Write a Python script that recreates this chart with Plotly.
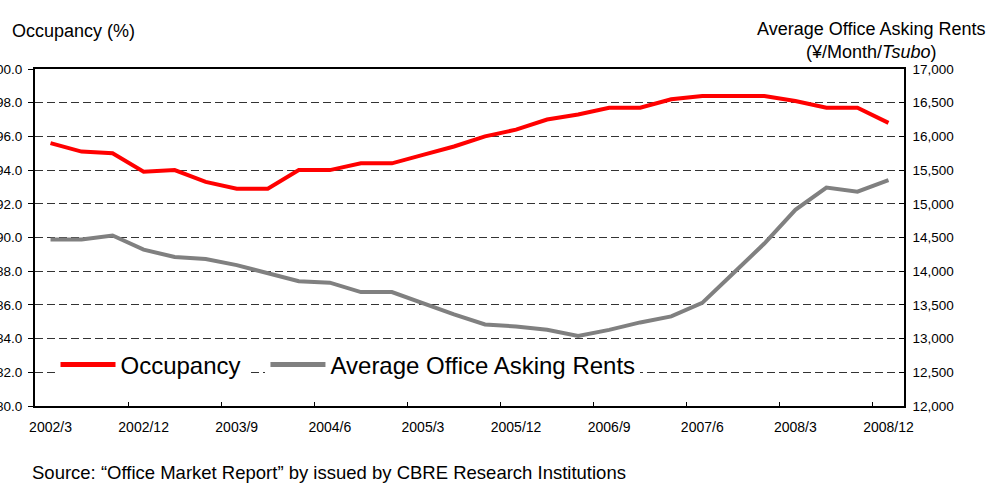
import plotly.graph_objects as go

# Quarterly periods, 2002/3 through 2008/12
quarters = [f"{y}/{m}" for y in range(2002, 2009) for m in (3, 6, 9, 12)]

# Occupancy rate (%)
occupancy = [95.6, 95.1, 95.0, 93.9, 94.0, 93.3, 92.9, 92.9, 94.0, 94.0,
             94.4, 94.4, 94.9, 95.4, 96.0, 96.4, 97.0, 97.3, 97.7, 97.7,
             98.2, 98.4, 98.4, 98.4, 98.1, 97.7, 97.7, 96.8]

# Average office asking rents (yen / month / tsubo)
rents = [14470, 14470, 14530, 14320, 14210, 14180, 14090, 13970, 13850, 13830,
         13690, 13690, 13520, 13360, 13210, 13180, 13130, 13040, 13130, 13240,
         13330, 13530, 13970, 14410, 14910, 15240, 15180, 15350]

FONT = "Liberation Sans, Arial, sans-serif"

fig = go.Figure()
fig.add_trace(go.Scatter(x=quarters, y=occupancy, name="Occupancy", mode="lines",
                         line=dict(color="#ff0000", width=4), yaxis="y",
                         legend="legend"))
fig.add_trace(go.Scatter(x=quarters, y=rents, name="Average Office Asking Rents",
                         mode="lines", line=dict(color="#808080", width=4),
                         yaxis="y2", legend="legend2"))

legend_style = dict(orientation="h", y=0.189, xanchor="left", yanchor="top",
                    bgcolor="white", font=dict(size=24), itemwidth=55,
                    itemsizing="constant")

# White backdrop behind the legend row (hides the grid line there)
fig.add_shape(type="rect", xref="paper", yref="paper", layer="between",
              x0=0.006, x1=0.70, y0=0.06, y1=0.18,
              fillcolor="white", line_width=0)

fig.update_layout(
    width=993, height=498,
    margin=dict(l=35, r=89, t=69, b=92),
    paper_bgcolor="white", plot_bgcolor="white",
    font=dict(family=FONT, color="black", size=13.5),
    showlegend=True,
    legend=dict(x=0.0236, **legend_style),
    legend2=dict(x=0.2652, **legend_style),
    xaxis=dict(type="category", showline=True, linecolor="black", linewidth=2,
               mirror=True, ticks="inside", ticklen=4, tickcolor="black",
               tickson="boundaries", dtick=3, tickangle=0, showgrid=False,
               range=[-0.5, 27.5], automargin=False, ticklabelstandoff=7,
               tickfont=dict(size=14)),
    yaxis=dict(range=[80, 100], dtick=2, tickformat=".1f", showline=True,
               linecolor="black", linewidth=2, ticks="outside", ticklen=5,
               tickcolor="black", showgrid=True, gridcolor="#333333",
               griddash="8px,4px", gridwidth=1, zeroline=False, automargin=False,
               ticklabelstandoff=3),
    yaxis2=dict(range=[12000, 17000], dtick=500, tickformat=",", overlaying="y",
                side="right", showline=True, linecolor="black", linewidth=1.5,
                ticks="inside", ticklen=5, tickcolor="black", showgrid=False,
                zeroline=False, automargin=False, ticklabelstandoff=4),
)

fig.add_annotation(text="Occupancy (%)", xref="paper", yref="paper",
                   x=-0.0288, y=1.113, xanchor="left", yanchor="middle",
                   showarrow=False, font=dict(size=18))
fig.add_annotation(text="Average Office Asking Rents<br>(¥/Month/<i>Tsubo</i>)",
                   xref="paper", yref="paper", x=0.962, y=1.086,
                   xanchor="center", yanchor="middle", align="center",
                   showarrow=False, font=dict(size=18))
fig.add_annotation(text="Source: “Office Market Report” by issued by CBRE Research Institutions",
                   xref="paper", yref="paper", x=-0.006, y=-0.196,
                   xanchor="left", yanchor="middle", showarrow=False,
                   font=dict(size=18.5))

fig.write_html("out.html")
